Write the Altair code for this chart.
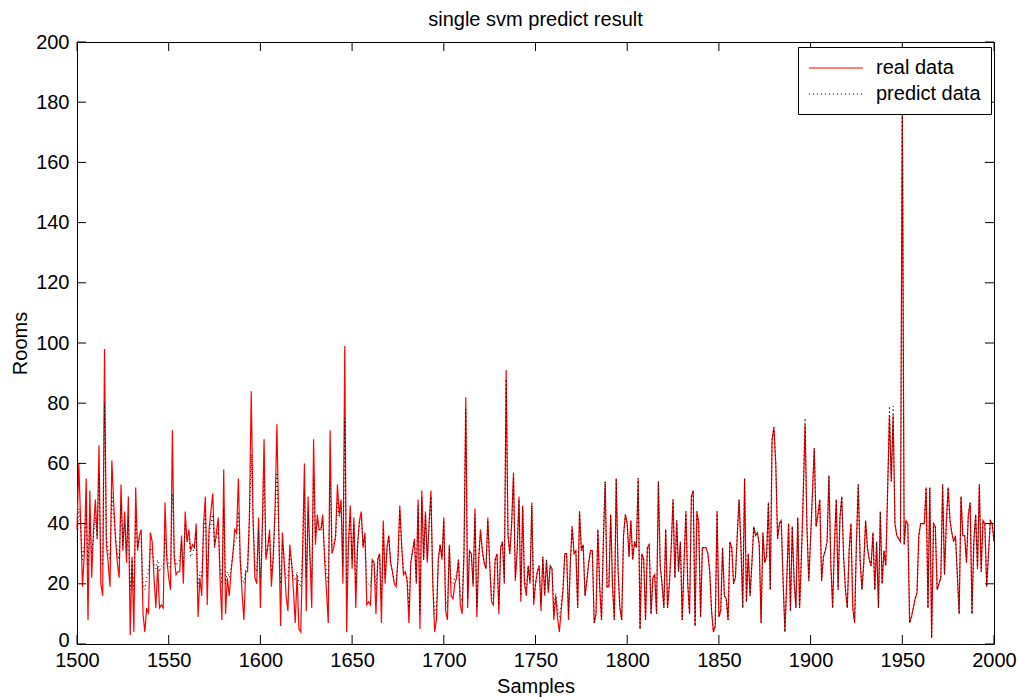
import altair as alt
import pandas as pd

first_sample = 1500

real_data = [
    38, 60, 40, 19, 30, 55, 8, 51, 22, 38,
    48, 35, 66, 20, 16, 98, 33, 27, 19, 61,
    47, 35, 27, 22, 53, 31, 44, 27, 49, 3,
    29, 4, 52, 31, 36, 38, 10, 4, 12, 10,
    37, 34, 22, 12, 26, 12, 13, 12, 47, 28,
    22, 18, 71, 29, 23, 24, 24, 36, 20, 44,
    34, 38, 31, 33, 32, 40, 9, 22, 16, 40,
    49, 13, 38, 44, 50, 32, 37, 42, 22, 8,
    58, 10, 22, 16, 24, 30, 38, 37, 55, 28,
    17, 8, 24, 24, 42, 84, 42, 22, 20, 42,
    12, 38, 68, 28, 32, 38, 19, 29, 45, 73,
    39, 6, 37, 27, 16, 11, 33, 27, 18, 7,
    23, 5, 4, 30, 60, 11, 49, 29, 12, 68,
    33, 43, 38, 38, 43, 28, 18, 7, 71, 30,
    32, 36, 53, 43, 48, 20, 99, 4, 33, 46,
    25, 42, 12, 33, 41, 44, 32, 37, 13, 14,
    13, 28, 27, 10, 28, 30, 7, 41, 20, 32,
    36, 27, 24, 20, 19, 28, 46, 33, 23, 24,
    21, 7, 27, 31, 35, 20, 48, 5, 51, 28,
    44, 27, 40, 51, 20, 4, 8, 28, 33, 28,
    42, 11, 8, 33, 16, 15, 20, 22, 28, 13,
    10, 30, 82, 12, 31, 30, 19, 45, 9, 28,
    38, 31, 27, 25, 42, 27, 14, 13, 28, 30,
    10, 32, 34, 20, 91, 36, 30, 40, 57, 21,
    31, 49, 14, 46, 20, 16, 26, 20, 47, 13,
    20, 24, 26, 11, 29, 16, 28, 17, 26, 25,
    8, 16, 9, 4, 11, 18, 30, 30, 8, 27,
    39, 30, 31, 12, 44, 31, 33, 16, 21, 27,
    31, 31, 7, 10, 38, 19, 8, 34, 54, 19,
    19, 43, 19, 8, 55, 25, 12, 8, 36, 43,
    40, 29, 41, 28, 34, 32, 55, 5, 30, 28,
    8, 32, 33, 10, 22, 23, 10, 54, 26, 20,
    12, 38, 12, 20, 32, 48, 22, 41, 24, 34,
    8, 27, 44, 20, 10, 49, 51, 6, 44, 40,
    9, 32, 32, 32, 30, 24, 11, 4, 6, 44,
    9, 11, 32, 16, 15, 8, 34, 32, 20, 22,
    36, 48, 33, 12, 55, 14, 30, 16, 27, 39,
    36, 37, 33, 7, 37, 27, 29, 47, 18, 68,
    72, 60, 35, 40, 41, 21, 4, 21, 40, 11,
    39, 21, 12, 42, 12, 29, 50, 73, 39, 21,
    35, 50, 65, 39, 43, 48, 21, 29, 31, 34,
    56, 27, 12, 33, 48, 18, 42, 49, 29, 18,
    12, 31, 40, 12, 7, 34, 53, 28, 18, 27,
    41, 32, 28, 26, 37, 18, 34, 12, 44, 20,
    31, 26, 51, 76, 54, 76, 40, 36, 35, 34,
    182, 33, 41, 40, 7, 9, 12, 15, 17, 36,
    40, 40, 40, 52, 12, 52, 2, 40, 39, 18,
    20, 22, 53, 23, 40, 52, 41, 37, 34, 36,
    23, 10, 49, 36, 36, 27, 43, 47, 10, 34,
    43, 25, 53, 24, 41, 40, 19, 30, 41, 40,
    34,
]

predict_data = [
    34, 45, 38, 28, 33, 44, 26, 40, 30, 36,
    42, 35, 56, 28, 26, 80, 36, 31, 28, 50,
    42, 36, 30, 28, 46, 33, 40, 30, 42, 18,
    28, 18, 42, 32, 35, 34, 20, 18, 22, 24,
    32, 30, 27, 25, 28, 24, 26, 25, 36, 30,
    26, 25, 50, 30, 26, 27, 28, 34, 26, 40,
    34, 35, 29, 30, 32, 37, 19, 24, 22, 36,
    44, 22, 36, 40, 43, 33, 35, 38, 26, 20,
    45, 20, 24, 22, 25, 30, 34, 35, 44, 28,
    22, 20, 25, 26, 40, 63, 40, 26, 24, 38,
    22, 36, 55, 30, 32, 36, 24, 28, 42, 57,
    36, 20, 34, 27, 22, 22, 30, 27, 22, 21,
    24, 20, 19, 30, 51, 22, 44, 30, 22, 55,
    36, 41, 38, 38, 41, 30, 24, 20, 54, 32,
    33, 35, 48, 42, 45, 26, 75, 20, 33, 42,
    28, 40, 20, 33, 40, 42, 33, 36, 20, 20,
    19, 28, 27, 18, 28, 30, 15, 38, 22, 31,
    36, 27, 24, 21, 20, 28, 44, 33, 24, 24,
    22, 12, 27, 31, 34, 21, 46, 10, 49, 28,
    43, 28, 40, 49, 21, 10, 12, 28, 33, 29,
    41, 15, 12, 32, 20, 20, 22, 23, 28, 16,
    14, 30, 78, 15, 31, 30, 20, 43, 12, 28,
    37, 31, 27, 25, 41, 27, 16, 15, 28, 30,
    13, 32, 34, 21, 88, 36, 30, 40, 55, 22,
    31, 48, 16, 45, 21, 18, 26, 21, 46, 15,
    20, 24, 26, 13, 29, 17, 28, 18, 26, 25,
    11, 17, 12, 9, 13, 19, 30, 30, 10, 27,
    39, 30, 31, 12, 44, 31, 33, 16, 21, 27,
    31, 31, 7, 10, 38, 19, 8, 34, 54, 19,
    19, 43, 19, 8, 55, 25, 12, 8, 36, 43,
    40, 29, 41, 28, 34, 32, 55, 5, 30, 28,
    8, 32, 33, 10, 22, 23, 10, 54, 26, 20,
    12, 38, 12, 20, 32, 48, 22, 41, 24, 34,
    8, 27, 44, 20, 10, 49, 51, 6, 44, 40,
    9, 32, 32, 32, 30, 24, 11, 4, 6, 44,
    9, 11, 32, 16, 15, 8, 34, 32, 20, 22,
    36, 48, 33, 12, 55, 14, 30, 16, 27, 39,
    36, 37, 33, 7, 37, 27, 29, 47, 18, 68,
    72, 60, 35, 40, 41, 21, 4, 21, 40, 11,
    39, 21, 12, 42, 12, 29, 50, 75, 39, 21,
    35, 50, 65, 39, 43, 48, 21, 29, 31, 34,
    56, 27, 12, 33, 48, 18, 42, 49, 29, 18,
    12, 31, 40, 12, 7, 34, 53, 28, 18, 27,
    41, 32, 28, 26, 37, 18, 34, 12, 44, 20,
    31, 26, 51, 79, 54, 79, 40, 36, 35, 34,
    182, 33, 41, 40, 7, 9, 12, 15, 17, 36,
    40, 40, 40, 52, 12, 52, 2, 40, 39, 18,
    20, 22, 53, 23, 40, 52, 41, 37, 34, 36,
    23, 10, 49, 36, 36, 27, 43, 47, 10, 34,
    43, 25, 53, 24, 41, 40, 19, 30, 41, 40,
    34,
]

x_tick_values = [1500, 1550, 1600, 1650, 1700, 1750, 1800, 1850, 1900, 1950, 2000]
y_tick_values = [0, 20, 40, 60, 80, 100, 120, 140, 160, 180, 200]
series_names = ["real data", "predict data"]
series_colors = ["#ff0000", "#000000"]
series_dashes = [[1, 0], [1, 3]]
chart_title = ["single svm predict result"]

n = min(len(real_data), len(predict_data))
samples = list(range(first_sample, first_sample + n))
df = pd.DataFrame({
    "Samples": samples + samples,
    "Rooms": real_data[:n] + predict_data[:n],
    "series": [series_names[0]] * n + [series_names[1]] * n,
})

W, H = 917, 602
FONT = "Liberation Sans"
FS = 20
TICK = 9

x_scale = alt.Scale(domain=[x_tick_values[0], x_tick_values[-1]], nice=False, zero=False)
y_scale = alt.Scale(domain=[y_tick_values[0], y_tick_values[-1]], nice=False)

legend = alt.Legend(title=None, orient="none", legendX=721, legendY=5)
color = alt.Color("series:N",
                  scale=alt.Scale(domain=series_names, range=series_colors),
                  legend=legend)
dash = alt.StrokeDash("series:N",
                      scale=alt.Scale(domain=series_names, range=series_dashes),
                      legend=legend)

x_enc = alt.X("Samples:Q", scale=x_scale,
              axis=alt.Axis(values=x_tick_values, format="d", title="Samples",
                            tickSize=0, domain=False, grid=False, labelPadding=6,
                            labelFlush=False,
                            titleX=W / 2, titleY=42, titleBaseline="middle"))
y_enc = alt.Y("Rooms:Q", scale=y_scale,
              axis=alt.Axis(values=y_tick_values, format="d", title="Rooms",
                            tickSize=0, domain=False, grid=False, labelPadding=8,
                            labelFlush=False,
                            labelOffset={"condition": {"test": "datum.value == 0", "value": -4},
                                         "value": 0},
                            titleX=-57, titleY=H / 2, titleBaseline="middle",
                            titleAngle=270))

base = alt.Chart(df)
real_layer = base.transform_filter(alt.datum.series == series_names[0]).mark_line(
    strokeWidth=1.2).encode(x=x_enc, y=y_enc, color=color, strokeDash=dash)
pred_layer = base.transform_filter(alt.datum.series == series_names[1]).mark_line(
    strokeWidth=1).encode(x=x_enc, y=y_enc, color=color, strokeDash=dash)

yt = pd.DataFrame({"Rooms": y_tick_values})
xt = pd.DataFrame({"Samples": x_tick_values})
ytick_l = alt.Chart(yt).mark_rule(color="black", strokeWidth=1).encode(
    y=alt.Y("Rooms:Q", scale=y_scale), x=alt.value(0), x2=alt.value(TICK))
ytick_r = alt.Chart(yt).mark_rule(color="black", strokeWidth=1).encode(
    y=alt.Y("Rooms:Q", scale=y_scale), x=alt.value(W - TICK), x2=alt.value(W))
xtick_b = alt.Chart(xt).mark_rule(color="black", strokeWidth=1).encode(
    x=alt.X("Samples:Q", scale=x_scale), y=alt.value(H), y2=alt.value(H - TICK))
xtick_t = alt.Chart(xt).mark_rule(color="black", strokeWidth=1).encode(
    x=alt.X("Samples:Q", scale=x_scale), y=alt.value(0), y2=alt.value(TICK))

title_layer = alt.Chart(pd.DataFrame({"title": chart_title})).mark_text(
    font=FONT, fontSize=FS, color="black", align="center", baseline="alphabetic"
).encode(text="title:N", x=alt.value(W / 2), y=alt.value(-16))

chart = alt.layer(real_layer, pred_layer, ytick_l, ytick_r, xtick_b, xtick_t,
                  title_layer).properties(
    width=W, height=H,
    autosize=alt.AutoSizeParams(type="none"),
    padding={"left": 77, "top": 42, "right": 24, "bottom": 53},
).configure_view(
    stroke="black", strokeWidth=1
).configure_axis(
    labelFont=FONT, labelFontSize=FS, labelColor="black",
    titleFont=FONT, titleFontSize=FS, titleColor="black", titleFontWeight="normal"
).configure_legend(
    strokeColor="black", fillColor="white",
    padding=10, labelFont=FONT, labelFontSize=FS, labelColor="black",
    symbolType="M-1,0H4.4", symbolSize=400, symbolStrokeWidth=1.2,
    labelOffset=46, rowPadding=5, cornerRadius=0, strokeWidth=1
)

chart.save("out.html", embed_options={"renderer": "svg", "actions": False})
